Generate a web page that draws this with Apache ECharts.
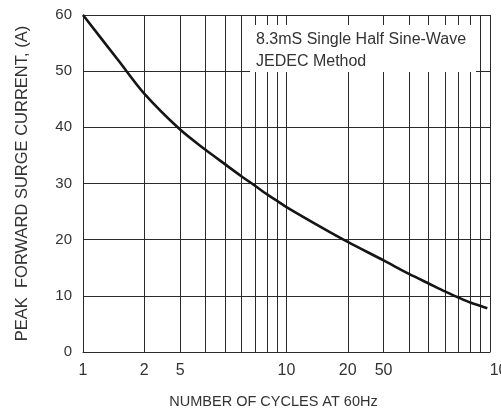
<!DOCTYPE html>
<html><head><meta charset="utf-8">
<script src="https://cdn.jsdelivr.net/npm/echarts@6/dist/echarts.min.js"></script>
<style>html,body{margin:0;padding:0;background:#fff}#c{width:501px;height:408px}</style>
</head><body><div id="c"></div>
<script>
// Surge current curve (cycles at 60Hz -> peak forward surge current, A)
const cycles  = [1, 1.5, 2, 3, 4, 5, 6, 7, 8, 9, 10, 15, 20, 30, 40, 50, 60, 70, 80, 90, 97];
const current = [60, 51.8, 46.0, 39.6, 36.0, 33.4, 31.3, 29.6, 28.1, 26.9, 25.8, 22.1, 19.6, 16.3, 13.9, 12.2, 10.8, 9.7, 8.8, 8.2, 7.8];
// grid lines and tick labels (as printed on the original)
const gridCycles  = [1,2,3,4,5,6,7,8,9,10,20,30,40,50,60,70,80,90,100];
const labelCycles = [1, 2, 3, 10, 20, 30, 100];
const labelTexts  = ['1','2','5','10','20','50','100'];
const yMin = 0, yMax = 60, yStep = 10;
const xTitle = 'NUMBER OF CYCLES AT 60Hz';
const yTitle = 'PEAK  FORWARD SURGE CURRENT, (A)';
const noteLines = ['8.3mS Single Half Sine-Wave', 'JEDEC Method'];

const chart = echarts.init(document.getElementById('c'), null, {renderer: 'canvas'});
const narrow = '"Liberation Sans Narrow", "Liberation Sans", Arial, sans-serif';
const sans = '"Liberation Sans", Arial, sans-serif';
const gridColor = '#2a2a2a';

chart.setOption({
  animation: false,
  backgroundColor: '#fff',
  grid: {left: 83, right: 11, top: 15, bottom: 56, containLabel: false, outerBoundsMode: 'none'},
  xAxis: {
    type: 'log', logBase: 10, min: 1, max: 100,
    name: xTitle, nameLocation: 'middle', nameGap: 42,
    nameTextStyle: {fontFamily: sans, fontSize: 14.5, color: '#333', padding: [0, 26, 0, 0]},
    axisLine: {show: true, lineStyle: {color: gridColor, width: 1}},
    axisTick: {show: false, customValues: gridCycles},
    splitLine: {show: true, lineStyle: {color: gridColor, width: 1, type: 'solid'}},
    axisLabel: {
      customValues: labelCycles,
      margin: 11, fontFamily: narrow, fontSize: 16, color: '#333',
      formatter: function (v) {
        let best = 0, bd = Infinity;
        labelCycles.forEach((c, i) => { const d = Math.abs(Math.log10(c) - Math.log10(v)); if (d < bd) { bd = d; best = i; } });
        const t = labelTexts[best];
        return best === labelCycles.length - 1 ? '{r|' + t + '}' : t;
      },
      rich: {r: {fontFamily: narrow, fontSize: 16, color: '#333', padding: [0, 0, 0, 26]}}
    }
  },
  yAxis: {
    type: 'value', min: yMin, max: yMax, interval: yStep,
    name: yTitle, nameLocation: 'middle', nameGap: 52, nameRotate: 90,
    nameTextStyle: {fontFamily: sans, fontSize: 16.5, color: '#333'},
    axisLine: {show: true, lineStyle: {color: gridColor, width: 1}},
    axisTick: {show: false},
    splitLine: {show: true, lineStyle: {color: gridColor, width: 1}},
    axisLabel: {margin: 11, fontFamily: narrow, fontSize: 15, color: '#333'}
  },
  graphic: [
    {type: 'rect', z: 100, shape: {x: 250, y: 25, width: 226, height: 47}, style: {fill: '#fff'}},
    {type: 'text', z: 101, x: 256, y: 40, style: {text: noteLines[0], font: '16px "Liberation Sans", Arial, sans-serif', fill: '#333', verticalAlign: 'middle'}},
    {type: 'text', z: 101, x: 256, y: 62, style: {text: noteLines[1], font: '16px "Liberation Sans", Arial, sans-serif', fill: '#333', verticalAlign: 'middle'}}
  ],
  series: [{
    type: 'line',
    data: cycles.map((c, i) => [c, current[i]]),
    smooth: 0.3, symbol: 'none',
    lineStyle: {color: '#151515', width: 2.6},
    z: 10
  }]
});
</script>
</body></html>
